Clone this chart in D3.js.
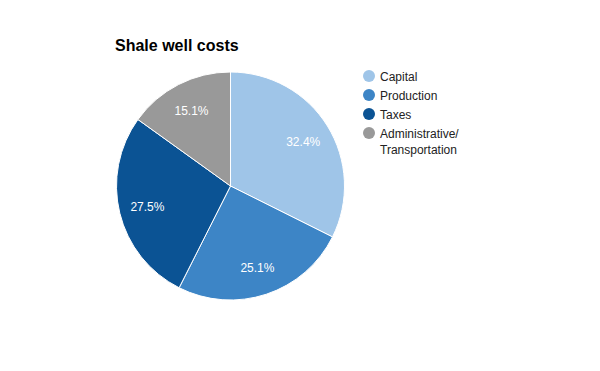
<!DOCTYPE html>
<html>
<head>
<meta charset="utf-8">
<script src="https://cdn.jsdelivr.net/npm/d3@7"></script>
<style>
  body { margin: 0; background: #fff; }
  text { font-family: "Liberation Sans", Arial, sans-serif; }
</style>
</head>
<body>
<div id="chart"></div>
<script>
// ===== data =====
var categories = ["Capital", "Production", "Taxes", "Administrative/ Transportation"];
var values = [32.4, 25.1, 27.5, 15.1];
var colors = ["#9fc5e8", "#3d85c6", "#0b5394", "#999999"];

var width = 600, height = 371;
var cx = 230.5, cy = 186, radius = 114;

var svg = d3.select("#chart")
    .append("svg")
    .attr("width", width)
    .attr("height", height)

// title
svg.append("text")
    .text("Shale well costs")
    .attr("x", 115)
    .attr("y", 51)
    .attr("font-size", "16px")
    .attr("font-weight", "bold")
    .attr("fill", "#000")

var pie = d3.pie().sort(null).value(function(d){return d})
var arc = d3.arc().innerRadius(0).outerRadius(radius)
var labelArc = d3.arc().innerRadius(radius*0.75).outerRadius(radius*0.75)

var g = svg.append("g").attr("transform", "translate(" + cx + "," + cy + ")")

var slices = pie(values)

g.selectAll("path")
    .data(slices)
    .enter()
    .append("path")
    .attr("d", arc)
    .attr("fill", function(d,i){return colors[i]})
    .attr("stroke", "#fff")
    .attr("stroke-width", 1)

g.selectAll("text.lbl")
    .data(slices)
    .enter()
    .append("text")
    .attr("class", "lbl")
    .attr("transform", function(d){ return "translate(" + labelArc.centroid(d) + ")" })
    .attr("dy", "0.4em")
    .attr("text-anchor", "middle")
    .attr("font-size", "12px")
    .attr("fill", "#fff")
    .text(function(d){ return d.value.toFixed(1) + "%" })

// legend
var legend = svg.append("g")
var ly = [76, 95, 114, 133]
categories.forEach(function(c, i){
    legend.append("circle")
        .attr("cx", 369)
        .attr("cy", ly[i])
        .attr("r", 6)
        .attr("fill", colors[i])
    var t = legend.append("text")
        .attr("x", 380)
        .attr("y", ly[i] + 4.5)
        .attr("font-size", "12px")
        .attr("fill", "#222")
    var parts = c.split(" ")
    parts.forEach(function(p, j){
        t.append("tspan")
            .attr("x", 380)
            .attr("dy", j == 0 ? 0 : 16)
            .text(p)
    })
})
</script>
</body>
</html>
